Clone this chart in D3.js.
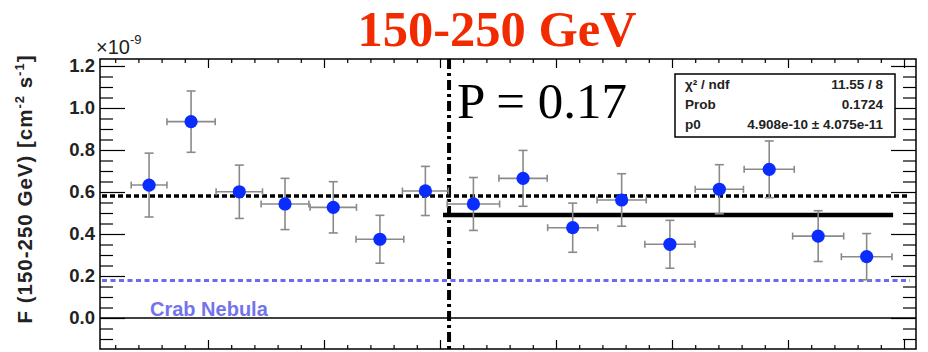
<!DOCTYPE html>
<html>
<head>
<meta charset="utf-8">
<script src="https://cdn.jsdelivr.net/npm/d3@7"></script>
<style>
  html, body { margin: 0; padding: 0; background: #fff; }
  svg { display: block; }
</style>
</head>
<body>
<svg id="chart" width="928" height="352"></svg>
<script>
// ---- data (flux in units of 1e-9 cm^-2 s^-1) ----
const xCenter = [2.46, 4.27, 6.35, 8.32, 10.40, 12.41, 14.37, 16.44, 18.58, 20.72, 22.83, 24.91, 27.04, 29.19, 31.30, 33.39];
const xErr    = [0.77, 1.04, 1.00, 1.03, 1.00, 1.03, 0.99, 1.13, 1.04, 1.08, 1.06, 1.08, 1.04, 1.08, 1.10, 1.09];
const flux    = [0.633, 0.935, 0.601, 0.543, 0.527, 0.375, 0.605, 0.543, 0.665, 0.430, 0.562, 0.351, 0.613, 0.708, 0.390, 0.292];
const fluxErr = [0.152, 0.146, 0.127, 0.122, 0.122, 0.114, 0.117, 0.126, 0.133, 0.117, 0.125, 0.114, 0.117, 0.135, 0.121, 0.110];

const meanAll   = 0.581;   // black dotted line
const crabLevel = 0.178;   // blue dotted line
const fitP0     = 0.4908;  // fitted constant
const fitRange  = [15.13, 34.53];
const splitX    = 15.39;   // dash-dot vertical divider

const yTickLabels = ["0.0", "0.2", "0.4", "0.6", "0.8", "1.0", "1.2"];
const yTickValues = [0, 0.2, 0.4, 0.6, 0.8, 1.0, 1.2];
const statsRows = [
  { name: "χ² / ndf", value: "11.55 / 8" },
  { name: "Prob", value: "0.1724" },
  { name: "p0", value: "4.908e-10 ± 4.075e-11" }
];
const titleText = "150-250 GeV";
const probText = "P = 0.17";

// ---- layout ----
const svg = d3.select("#chart");
const L = 100, R = 916, T = 59, B = 349;
const x = d3.scaleLinear().domain([0.345, 35.517]).range([L, R]);
const y = d3.scaleLinear().domain([-0.1476, 1.2333]).range([B, T]);

const sans = "'Liberation Sans', Arial, Helvetica, sans-serif";
const serif = "'Liberation Serif', 'Times New Roman', serif";

// title
svg.append("text").attr("x", 497).attr("y", 45.5)
  .attr("text-anchor", "middle")
  .attr("font-family", serif).attr("font-weight", "bold").attr("font-size", 50.5)
  .attr("fill", "#f22a00").text(titleText);

// frame
svg.append("rect").attr("x", L).attr("y", T).attr("width", R - L).attr("height", B - T)
  .attr("fill", "none").attr("stroke", "#000").attr("stroke-width", 1.5);

// axes ticks (inside)
const xMinor = d3.range(1, 36).filter(v => v % 5 !== 0);
const xMajor = d3.range(5, 36, 5);
function xAxis(pos, dir, vals, len) {
  const ax = (dir === "bottom" ? d3.axisBottom(x) : d3.axisTop(x))
    .tickValues(vals).tickFormat("").tickSize(-len).tickSizeOuter(0);
  const g = svg.append("g").attr("transform", `translate(0,${pos})`).call(ax);
  g.select(".domain").remove();
  g.selectAll("line").attr("stroke", "#000").attr("stroke-width", 1.2);
}
xAxis(B, "bottom", xMinor, 4);
xAxis(B, "bottom", xMajor, 9);
xAxis(T, "top", xMinor, 4);
xAxis(T, "top", xMajor, 9);

const yMinor = d3.range(-0.1, 1.2001, 0.05).map(v => +v.toFixed(2)).filter(v => Math.abs(Math.round(v * 5) - v * 5) > 1e-6);
function yAxis(pos, dir, vals, len, fmt) {
  const ax = (dir === "left" ? d3.axisLeft(y) : d3.axisRight(y))
    .tickValues(vals).tickSize(-len).tickSizeOuter(0).tickPadding(6);
  ax.tickFormat(fmt ? ((d, i) => fmt[i]) : "");
  const g = svg.append("g").attr("transform", `translate(${pos},0)`).call(ax);
  g.select(".domain").remove();
  g.selectAll("line").attr("stroke", "#000").attr("stroke-width", 1.2);
  return g;
}
yAxis(L, "left", yMinor, 13);
const gl = yAxis(L, "left", yTickValues, 25, yTickLabels);
gl.selectAll("text").attr("x", -5)
  .attr("font-family", sans).attr("font-weight", "bold").attr("font-size", 18.5)
  .attr("fill", "#222");
yAxis(R, "right", yMinor, 13);
yAxis(R, "right", yTickValues, 25);

// exponent label
const ex = svg.append("text").attr("x", 96).attr("y", 54)
  .attr("font-family", sans).attr("font-size", 20).attr("fill", "#222");
ex.append("tspan").text("×10");
ex.append("tspan").attr("font-size", 13).attr("dy", -10).text("-9");

// y-axis title
const yt = svg.append("text")
  .attr("transform", "translate(32,189) rotate(-90)")
  .attr("text-anchor", "middle")
  .attr("font-family", sans).attr("font-weight", "bold").attr("font-size", 20.5)
  .attr("letter-spacing", 1).attr("fill", "#222");
yt.append("tspan").text("F (150-250 GeV)  [cm");
yt.append("tspan").attr("font-size", 13).attr("dy", -8).text("-2");
yt.append("tspan").attr("dy", 8).text(" s");
yt.append("tspan").attr("font-size", 13).attr("dy", -8).text("-1");
yt.append("tspan").attr("dy", 8).text("]");

// reference lines
svg.append("line").attr("x1", L).attr("x2", R).attr("y1", y(0)).attr("y2", y(0))
  .attr("stroke", "#000").attr("stroke-width", 1.5);
svg.append("line").attr("x1", L + 2).attr("x2", R - 6).attr("y1", y(crabLevel)).attr("y2", y(crabLevel))
  .attr("stroke", "#6b6bf2").attr("stroke-width", 3).attr("stroke-dasharray", "5,3.5");
svg.append("line").attr("x1", L + 2).attr("x2", R - 6).attr("y1", y(meanAll)).attr("y2", y(meanAll))
  .attr("stroke", "#000").attr("stroke-width", 3.5).attr("stroke-dasharray", "5,3");
svg.append("line").attr("x1", x(fitRange[0])).attr("x2", x(fitRange[1]))
  .attr("y1", y(fitP0)).attr("y2", y(fitP0))
  .attr("stroke", "#000").attr("stroke-width", 4.5);
svg.append("line").attr("x1", x(splitX)).attr("x2", x(splitX)).attr("y1", T).attr("y2", B)
  .attr("stroke", "#000").attr("stroke-width", 4).attr("stroke-dasharray", "10,4,3,4");

// Crab label
svg.append("text").attr("x", 150).attr("y", 316)
  .attr("font-family", sans).attr("font-weight", "bold").attr("font-size", 20)
  .attr("fill", "#7474ea").text("Crab Nebula");

// error bars
const pts = flux.map((v, i) => ({ x: xCenter[i], xe: xErr[i], y: v, ye: fluxErr[i] }));
const eg = svg.append("g").attr("stroke", "#8a8a8a").attr("stroke-width", 1.6);
pts.forEach(p => {
  const cx = x(p.x), cy = y(p.y);
  const x0 = x(p.x - p.xe), x1 = x(p.x + p.xe);
  const y0 = y(p.y - p.ye), y1 = y(p.y + p.ye);
  eg.append("line").attr("x1", x0).attr("x2", x1).attr("y1", cy).attr("y2", cy);
  eg.append("line").attr("x1", cx).attr("x2", cx).attr("y1", y0).attr("y2", y1);
  eg.append("line").attr("x1", cx - 4.5).attr("x2", cx + 4.5).attr("y1", y0).attr("y2", y0);
  eg.append("line").attr("x1", cx - 4.5).attr("x2", cx + 4.5).attr("y1", y1).attr("y2", y1);
  eg.append("line").attr("x1", x0).attr("x2", x0).attr("y1", cy - 3.5).attr("y2", cy + 3.5);
  eg.append("line").attr("x1", x1).attr("x2", x1).attr("y1", cy - 3.5).attr("y2", cy + 3.5);
});
svg.append("g").selectAll("circle").data(pts).join("circle")
  .attr("cx", d => x(d.x)).attr("cy", d => y(d.y)).attr("r", 6.6)
  .attr("fill", "#0a2cff");

// P text
svg.append("text").attr("x", 457).attr("y", 118)
  .attr("font-family", serif).attr("font-size", 51).attr("fill", "#000").text(probText);

// stats box
svg.append("rect").attr("x", 675).attr("y", 74).attr("width", 220).attr("height", 63)
  .attr("fill", "#fff").attr("stroke", "#000").attr("stroke-width", 1.5);
const rowY = [88.5, 109, 128.5];
statsRows.forEach((r, i) => {
  svg.append("text").attr("x", 685).attr("y", rowY[i])
    .attr("font-family", sans).attr("font-weight", "bold").attr("font-size", 13.5)
    .attr("fill", "#222").text(r.name);
  svg.append("text").attr("x", 883).attr("y", rowY[i]).attr("text-anchor", "end")
    .attr("font-family", sans).attr("font-weight", "bold").attr("font-size", 13.5)
    .attr("fill", "#222").text(r.value);
});
</script>
</body>
</html>
